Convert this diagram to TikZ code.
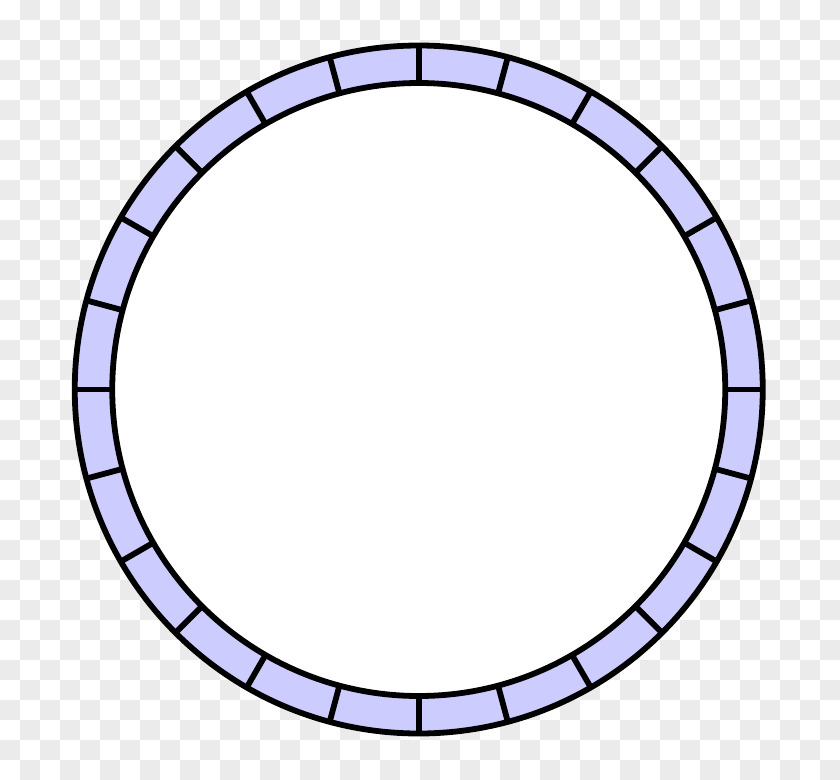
\documentclass[tikz,border=0pt]{standalone}
\usetikzlibrary{calc}
\definecolor{ringfill}{HTML}{CCCCFF}
\definecolor{checker}{HTML}{EBEBEB}
\begin{document}
\begin{tikzpicture}[x=1pt,y=-1pt,
  ringline/.style={line width=5.8pt,draw=black}]
\useasboundingbox (0,0) rectangle (840,779);
% transparency checkerboard
\fill[white] (0,0) rectangle (840,779);
\foreach \i in {0,...,41}{
  \foreach \j in {0,...,38}{
    \pgfmathtruncatemacro{\chk}{mod(\i+\j,2)}
    \ifnum\chk=1
      \fill[checker] (\i*20,\j*20) rectangle ++(20,20);
    \fi
  }
}
\coordinate (c) at (418.75,389.5);
\fill[ringfill] (c) circle[radius=344];
\fill[white] (c) circle[radius=306.5];
\foreach \a in {0,15,...,345}{
  \draw[ringline] ($(c)+(\a:306.5)$) -- ($(c)+(\a:344)$);
}
\draw[ringline] (c) circle[radius=344];
\draw[ringline] (c) circle[radius=306.5];
\end{tikzpicture}
\end{document}
